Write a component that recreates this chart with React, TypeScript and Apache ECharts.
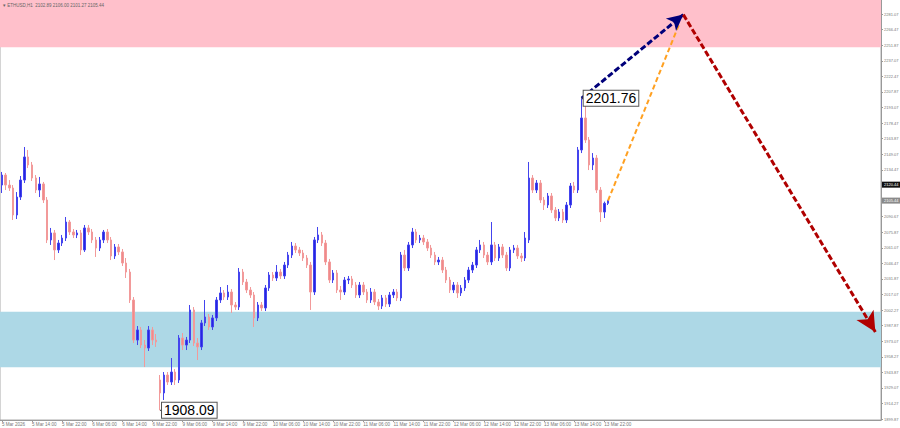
import React, { useEffect, useRef } from "react";
import * as echarts from "echarts";

// ---- Data ----
const xTickLabels = [
  "5 Mar 2026", "5 Mar 14:00", "5 Mar 22:00", "6 Mar 06:00", "6 Mar 14:00", "6 Mar 22:00",
  "9 Mar 06:00", "9 Mar 14:00", "9 Mar 22:00", "10 Mar 06:00", "10 Mar 14:00", "10 Mar 22:00",
  "11 Mar 06:00", "11 Mar 14:00", "11 Mar 22:00", "12 Mar 06:00", "12 Mar 14:00", "12 Mar 22:00",
  "13 Mar 06:00", "13 Mar 14:00", "13 Mar 22:00",
];
const yTickLabels = [
  "2281.07", "2266.47", "2251.87", "2237.07", "2222.47", "2207.87", "2193.07", "2178.47",
  "2163.87", "2149.07", "2134.47", "2090.67", "2075.87", "2061.07", "2046.47", "2031.87",
  "2017.07", "2002.27", "1987.87", "1973.07", "1958.27", "1943.87", "1929.07", "1914.27", "1899.87",
];
// [open, close, low, high]
const candles: number[][] = [
  [2120.1, 2129.5, 2112.6, 2132.4], [2129.5, 2120.1, 2115.4, 2131.4], [2120.1, 2117.3, 2114.5, 2124.8],
  [2117.3, 2091.9, 2087.2, 2120.1], [2091.9, 2108.8, 2088.1, 2113.5], [2108.8, 2124.8, 2106.0, 2128.6],
  [2124.8, 2146.5, 2122.0, 2155.9], [2146.5, 2139.0, 2136.1, 2153.1], [2139.0, 2126.7, 2123.9, 2141.8],
  [2126.7, 2115.4, 2112.6, 2129.5], [2115.4, 2121.1, 2108.8, 2127.7], [2121.1, 2106.0, 2103.2, 2123.0],
  [2106.0, 2068.4, 2065.5, 2108.8], [2068.4, 2075.0, 2063.7, 2079.7], [2075.0, 2059.0, 2049.5, 2077.8],
  [2059.0, 2065.5, 2056.1, 2068.4], [2065.5, 2070.2, 2062.7, 2073.1], [2070.2, 2085.3, 2067.4, 2090.0],
  [2085.3, 2075.9, 2073.1, 2087.2], [2075.9, 2073.1, 2070.2, 2078.7], [2073.1, 2075.0, 2070.2, 2077.8],
  [2075.0, 2059.0, 2054.2, 2077.8], [2059.0, 2079.7, 2057.1, 2082.5], [2079.7, 2075.9, 2073.1, 2082.5],
  [2075.9, 2068.4, 2065.5, 2078.7], [2068.4, 2060.8, 2052.4, 2071.2], [2060.8, 2068.4, 2058.0, 2071.2],
  [2068.4, 2075.9, 2065.5, 2077.8], [2075.9, 2068.4, 2065.5, 2078.7], [2068.4, 2053.3, 2049.5, 2071.2],
  [2053.3, 2061.8, 2050.5, 2064.6], [2061.8, 2057.1, 2054.2, 2064.6], [2057.1, 2046.7, 2043.9, 2059.9],
  [2046.7, 2038.2, 2032.6, 2051.4], [2038.2, 2011.9, 2009.1, 2041.1], [2011.9, 1974.2, 1971.4, 2014.7],
  [1974.2, 1983.7, 1969.5, 1987.4], [1983.7, 1969.5, 1966.7, 1986.5], [1969.5, 1966.7, 1948.8, 1974.2],
  [1966.7, 1983.7, 1963.9, 1987.4], [1983.7, 1974.2, 1969.5, 1986.5], [1974.2, 1972.4, 1967.7, 1979.9],
  [1936.6, 1924.4, 1908.09, 1941.3], [1924.4, 1941.3, 1917.8, 1944.1], [1941.3, 1934.7, 1931.9, 1944.1],
  [1934.7, 1944.1, 1931.9, 1957.3], [1944.1, 1936.6, 1931.9, 1946.9], [1936.6, 1976.1, 1933.8, 1978.9],
  [1976.1, 1969.5, 1964.8, 1980.8], [1969.5, 1974.2, 1964.8, 1977.1], [1974.2, 2002.5, 1971.4, 2007.2],
  [2002.5, 1971.4, 1968.6, 2005.3], [1971.4, 1967.7, 1955.4, 1976.1], [1967.7, 1990.3, 1964.8, 1993.1],
  [1990.3, 1995.9, 1987.4, 2011.9], [1995.9, 1986.5, 1983.7, 1998.7], [1986.5, 1995.0, 1983.7, 1997.8],
  [1995.0, 2011.9, 1992.1, 2014.7], [2011.9, 2018.5, 2009.1, 2024.1], [2018.5, 2014.7, 2011.9, 2021.3],
  [2014.7, 2019.4, 2011.9, 2026.0], [2019.4, 2007.2, 1999.7, 2022.2], [2007.2, 2005.3, 2002.5, 2010.0],
  [2005.3, 2038.2, 2002.5, 2042.0], [2038.2, 2028.8, 2026.0, 2041.1], [2028.8, 2021.3, 2018.5, 2031.7],
  [2021.3, 2016.6, 2013.8, 2024.1], [2016.6, 1995.0, 1986.5, 2019.4], [1995.0, 2007.2, 1992.1, 2010.0],
  [2007.2, 2004.4, 2001.5, 2010.0], [2004.4, 2023.2, 2001.5, 2026.0], [2023.2, 2035.4, 2020.4, 2038.2],
  [2035.4, 2032.6, 2029.8, 2038.2], [2032.6, 2038.2, 2029.8, 2044.8], [2038.2, 2034.5, 2031.7, 2041.1],
  [2034.5, 2044.8, 2031.7, 2047.7], [2044.8, 2054.2, 2042.0, 2057.1], [2054.2, 2062.7, 2051.4, 2066.5],
  [2062.7, 2059.0, 2056.1, 2065.5], [2059.0, 2056.1, 2053.3, 2061.8], [2056.1, 2051.4, 2048.6, 2059.0],
  [2051.4, 2044.8, 2042.0, 2054.2], [2044.8, 2019.4, 2002.5, 2047.7], [2019.4, 2068.4, 2016.6, 2071.2],
  [2068.4, 2073.1, 2065.5, 2080.6], [2073.1, 2065.5, 2062.7, 2075.9], [2065.5, 2047.7, 2044.8, 2068.4],
  [2047.7, 2030.7, 2027.9, 2050.5], [2030.7, 2037.3, 2027.9, 2040.1], [2037.3, 2021.3, 2018.5, 2040.1],
  [2021.3, 2019.4, 2011.9, 2025.1], [2019.4, 2030.7, 2016.6, 2033.5], [2030.7, 2031.7, 2026.9, 2034.5],
  [2031.7, 2026.0, 2023.2, 2034.5], [2026.0, 2016.6, 2013.8, 2028.8], [2016.6, 2026.0, 2013.8, 2028.8],
  [2026.0, 2019.4, 2016.6, 2028.8], [2019.4, 2011.9, 2009.1, 2022.2], [2011.9, 2019.4, 2009.1, 2023.2],
  [2019.4, 2010.0, 2007.2, 2022.2], [2010.0, 2006.2, 2002.5, 2012.8], [2006.2, 2013.8, 2003.4, 2016.6],
  [2013.8, 2008.1, 2005.3, 2016.6], [2008.1, 2016.6, 2005.3, 2019.4], [2016.6, 2019.4, 2013.8, 2022.2],
  [2019.4, 2013.8, 2010.9, 2022.2], [2013.8, 2054.2, 2010.9, 2057.1], [2054.2, 2042.0, 2039.2, 2059.0],
  [2042.0, 2063.7, 2039.2, 2066.5], [2063.7, 2075.9, 2060.8, 2079.7], [2075.9, 2068.4, 2065.5, 2078.7],
  [2068.4, 2070.2, 2065.5, 2073.1], [2070.2, 2066.5, 2063.7, 2073.1], [2066.5, 2060.8, 2058.0, 2069.3],
  [2060.8, 2054.2, 2051.4, 2063.7], [2054.2, 2047.7, 2044.8, 2057.1], [2047.7, 2049.5, 2044.8, 2052.4],
  [2049.5, 2040.1, 2037.3, 2052.4], [2040.1, 2030.7, 2027.9, 2043.0], [2030.7, 2021.3, 2018.5, 2033.5],
  [2021.3, 2026.0, 2018.5, 2028.8], [2026.0, 2018.5, 2013.8, 2028.8], [2018.5, 2023.2, 2015.7, 2026.0],
  [2023.2, 2030.7, 2020.4, 2033.5], [2030.7, 2040.1, 2027.9, 2043.0], [2040.1, 2044.8, 2037.3, 2047.7],
  [2044.8, 2059.0, 2042.0, 2061.8], [2059.0, 2063.7, 2056.1, 2068.4], [2063.7, 2054.2, 2051.4, 2066.5],
  [2054.2, 2047.7, 2044.8, 2057.1], [2047.7, 2063.7, 2044.8, 2085.3], [2063.7, 2051.4, 2048.6, 2066.5],
  [2051.4, 2061.8, 2048.6, 2064.6], [2061.8, 2054.2, 2051.4, 2064.6], [2054.2, 2042.0, 2039.2, 2057.1],
  [2042.0, 2059.0, 2039.2, 2061.8], [2059.0, 2060.8, 2056.1, 2063.7], [2060.8, 2053.3, 2050.5, 2063.7],
  [2053.3, 2051.4, 2047.7, 2056.1], [2051.4, 2070.2, 2048.6, 2075.9], [2068.4, 2126.7, 2065.5, 2141.8],
  [2126.7, 2115.4, 2112.6, 2129.5], [2115.4, 2122.0, 2112.6, 2124.8], [2122.0, 2106.0, 2103.2, 2124.8],
  [2106.0, 2101.3, 2096.6, 2108.8], [2101.3, 2109.8, 2098.5, 2112.6], [2109.8, 2096.6, 2093.8, 2112.6],
  [2096.6, 2089.1, 2086.2, 2099.4], [2089.1, 2094.7, 2086.2, 2097.5], [2094.7, 2087.2, 2084.4, 2097.5],
  [2087.2, 2101.3, 2084.4, 2104.1], [2101.3, 2119.2, 2098.5, 2122.0], [2119.2, 2115.4, 2112.6, 2123.0],
  [2115.4, 2153.1, 2112.6, 2155.9], [2153.1, 2183.2, 2150.2, 2201.76], [2183.2, 2162.5, 2159.7, 2195.4],
  [2162.5, 2139.0, 2134.2, 2165.3], [2139.0, 2145.5, 2134.2, 2150.2], [2145.5, 2115.4, 2112.6, 2148.4],
  [2115.4, 2094.7, 2085.3, 2118.2], [2094.7, 2102.9, 2089.1, 2104.5], [2102.89, 2105.44, 2101.27, 2106.0],
];
const totalSlots = 234;
const categories = Array.from({ length: totalSlots }, (_, i) => "b" + i);
const yMin = 1898.95;
const yMax = 2294.25;
const pinkZone = [2249.7, 2294.25];
const blueZone = [1948.5, 2000.9];
const peak = { index: 154, value: 2201.76, text: "2201.76" };
const trough = { index: 42, value: 1908.09, text: "1908.09" };
const askPrice = { value: 2120.44, text: "2120.44" };
const bidPrice = { value: 2105.44, text: "2105.44" };
const lastBar = { index: 161, value: 2105.44 };
const projTop = { index: 181, value: 2280.5 };
const projEnd = { index: 232, value: 1981.8 };
const headerText = "\u25BE ETHUSD,H1  2102.89 2106.00 2101.27 2105.44";

const FONT = "'Liberation Sans', Arial, sans-serif";

export default function App() {
  const ref = useRef<HTMLDivElement>(null);
  useEffect(() => {
    document.body.style.margin = "0";
    const chart = echarts.init(ref.current!, null, { renderer: "svg" });
    const showTick = (idx: number) => idx % 8 === 0 && idx / 8 < xTickLabels.length;
    const header = {
      type: "text",
      left: 3,
      top: 3,
      style: { text: headerText, font: `4.5px ${FONT}`, fill: "#666" },
      z: 100,
    };
    chart.setOption({
      animation: false,
      textStyle: { fontFamily: FONT },
      grid: {
        left: 0, right: 19, top: 0, bottom: 8,
        show: true, borderColor: "#aaa", borderWidth: 1,
        outerBoundsMode: "none",
      },
      xAxis: {
        type: "category",
        data: categories,
        boundaryGap: true,
        axisLine: { show: true, lineStyle: { color: "#999", width: 1 } },
        axisTick: { show: true, interval: (i: number) => showTick(i), alignWithLabel: true, length: 2, lineStyle: { color: "#999" } },
        axisLabel: {
          interval: (i: number) => showTick(i),
          formatter: (_v: string, i: number) => xTickLabels[i / 8] ?? "",
          fontSize: 4.6, color: "#777", align: "left", margin: 2, fontFamily: FONT,
        },
        splitLine: { show: false },
      },
      yAxis: {
        type: "value",
        position: "right",
        min: yMin,
        max: yMax,
        axisLine: { show: true, lineStyle: { color: "#999", width: 1 } },
        axisTick: { show: true, length: 2, customValues: yTickLabels.map(Number), lineStyle: { color: "#999" } },
        axisLabel: {
          customValues: yTickLabels.map(Number),
          formatter: (v: number) => v.toFixed(2),
          fontSize: 4, color: "#777", margin: 3, fontFamily: FONT,
        },
        splitLine: { show: false },
      },
      series: [
        {
          type: "candlestick",
          data: candles,
          barWidth: 2,
          itemStyle: {
            color: "#2626e0", color0: "#f08a8a",
            borderColor: "#4444ee", borderColor0: "#f29a9a", borderWidth: 1,
          },
          markArea: {
            silent: true,
            data: [
              [{ yAxis: pinkZone[0], itemStyle: { color: "#ffc0cb" } }, { yAxis: pinkZone[1] }],
              [{ yAxis: blueZone[0], itemStyle: { color: "#add8e6" } }, { yAxis: blueZone[1] }],
            ],
          },
          markLine: {
            silent: true,
            symbol: ["none", "none"],
            label: { show: false },
            data: [
              [
                { coord: [lastBar.index, lastBar.value], symbol: "none", lineStyle: { color: "#ffa020", width: 2, type: [5, 3] } },
                { coord: [projTop.index - 1, projTop.value - 8], symbol: "none", lineStyle: { color: "#ffa020", width: 2, type: [5, 3] } },
              ],
              [
                { coord: [peak.index, peak.value], symbol: "none", lineStyle: { color: "#00007a", width: 3, type: [6, 2.5] } },
                { coord: [projTop.index, projTop.value], symbol: "arrow", symbolSize: [12, 16], lineStyle: { color: "#00007a", width: 3, type: [6, 2.5] } },
              ],
              [
                { coord: [projTop.index, projTop.value], symbol: "none", lineStyle: { color: "#b00000", width: 3, type: [6, 2.5] } },
                { coord: [projEnd.index, projEnd.value], symbol: "arrow", symbolSize: [15, 20], lineStyle: { color: "#b00000", width: 3, type: [6, 2.5] } },
              ],
            ],
          },
        },
      ],
      graphic: [header],
    });

    const pk = chart.convertToPixel({ gridIndex: 0 }, [peak.index, peak.value]) as number[];
    const tr = chart.convertToPixel({ gridIndex: 0 }, [trough.index, trough.value]) as number[];
    const askY = chart.convertToPixel({ yAxisIndex: 0 }, askPrice.value) as number;
    const bidY = chart.convertToPixel({ yAxisIndex: 0 }, bidPrice.value) as number;
    const gridRight = 881;
    const boxLabel = (x: number, y: number, text: string) => ({
      type: "text",
      x, y,
      z: 120,
      style: {
        text, font: `14px ${FONT}`, fill: "#000",
        verticalAlign: "middle", align: "left",
        backgroundColor: "#fff", borderColor: "#555", borderWidth: 1,
        padding: [1, 2, 0, 2],
      },
    });
    const priceBox = (y: number, text: string, bg: string) => ({
      type: "text",
      x: gridRight + 1, y,
      z: 120,
      style: {
        text, font: `4px ${FONT}`, fill: "#fff",
        verticalAlign: "middle", align: "left",
        backgroundColor: bg, padding: [1, 2, 1, 2],
      },
    });
    chart.setOption({
      graphic: [
        header,
        { type: "line", z: 119, shape: { x1: pk[0], y1: pk[1], x2: pk[0] + 3, y2: pk[1] }, style: { stroke: "#333", lineWidth: 1 } },
        boxLabel(pk[0] + 2, pk[1], peak.text),
        { type: "line", z: 119, shape: { x1: tr[0], y1: tr[1], x2: tr[0] + 3, y2: tr[1] }, style: { stroke: "#333", lineWidth: 1 } },
        boxLabel(tr[0] + 2, tr[1], trough.text),
        priceBox(askY, askPrice.text, "#111"),
        priceBox(bidY, bidPrice.text, "#8a8a8a"),
      ],
    });
    return () => chart.dispose();
  }, []);
  return <div ref={ref} style={{ width: 900, height: 428 }} />;
}
